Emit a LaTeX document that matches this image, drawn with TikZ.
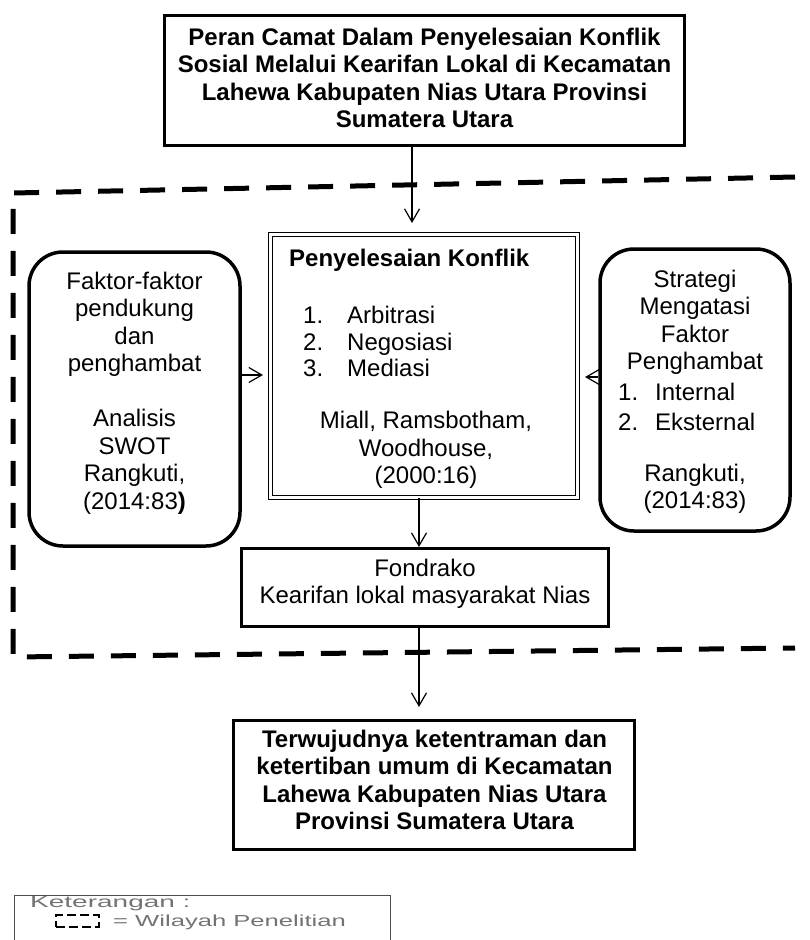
\documentclass[tikz,border=0pt]{standalone}
\usepackage{fontspec}
\usepackage{graphicx}
\setmainfont{Liberation Sans}
\usetikzlibrary{arrows.meta,calc}
\begin{document}
\begin{tikzpicture}[x=1pt,y=-1pt,
  every node/.style={font=\fontsize{24}{27.5}\selectfont},
  bfont/.style={font=\fontsize{24}{27.5}\selectfont\bfseries},
  box/.style={draw, line width=3pt, inner sep=0pt},
  rbox/.style={draw, line width=3.5pt, rounded corners=34pt, inner sep=0pt},
  dbox/.style={draw, double, double distance=2.5pt, line width=1.2pt, inner sep=0pt},
  txt/.style={inner sep=0pt, align=center},
  arr/.style={line width=1.2pt, -{Straight Barb[length=13pt,width=15pt]}},
  region/.style={line width=5pt, dash pattern=on 25pt off 17pt},
  legtext/.style={anchor=west, inner sep=0pt, text=black!55, font=\fontsize{16}{18}\selectfont},
]
\useasboundingbox (0,0) rectangle (809,940);

% research region (dashed)
\draw[region] (795,177) -- (13,193) -- (13,657) -- (795,648);

% top box
\node[box, minimum width=520pt, minimum height=130pt] (top) at (424.5,80.5) {};
\node[txt, bfont] (toptxt) at (424.5,78) {Peran Camat Dalam Penyelesaian Konflik\\Sosial Melalui Kearifan Lokal di Kecamatan\\Lahewa Kabupaten Nias Utara Provinsi\\Sumatera Utara};

% center double box
\node[dbox, minimum width=307pt, minimum height=263pt] (cbox) at (424,366) {};
\node[inner sep=0pt, anchor=base west, bfont] (ctitle) at (289,266.5) {Penyelesaian Konflik};
\node[inner sep=0pt, anchor=base west] (n1) at (303,323.5) {1.};
\node[inner sep=0pt, anchor=base west] (i1) at (347,323.5) {Arbitrasi};
\node[inner sep=0pt, anchor=base west] (n2) at (303,350.5) {2.};
\node[inner sep=0pt, anchor=base west] (i2) at (347,350.5) {Negosiasi};
\node[inner sep=0pt, anchor=base west] (n3) at (303,376.5) {3.};
\node[inner sep=0pt, anchor=base west] (i3) at (347,376.5) {Mediasi};
\node[txt] (cref) at (426,450) {Miall, Ramsbotham,\\Woodhouse,\\(2000:16)};

% left rounded box
\node[rbox, minimum width=211pt, minimum height=294pt] (lbox) at (134.5,399) {};
\node[txt] (ltxt) at (134.5,393) {Faktor-faktor\\pendukung\\dan\\penghambat\\[27.5pt]Analisis\\SWOT\\Rangkuti,\\(2014:83\textbf{)}};

% right rounded box
\node[rbox, minimum width=190pt, minimum height=282pt] (rbox) at (695,390) {};
\node[txt] (rtxt1) at (695,322.5) {Strategi\\Mengatasi\\Faktor\\Penghambat};
\node[inner sep=0pt, anchor=base west] (rn1) at (618,400.5) {1.};
\node[inner sep=0pt, anchor=base west] (ri1) at (655,400.5) {Internal};
\node[inner sep=0pt, anchor=base west] (rn2) at (618,430.5) {2.};
\node[inner sep=0pt, anchor=base west] (ri2) at (655,430.5) {Eksternal};
\node[txt] (rtxt2) at (695,489) {Rangkuti,\\(2014:83)};

% Fondrako box
\node[box, minimum width=367pt, minimum height=78pt] (fond) at (425,587.5) {};
\node[txt] (fondtxt) at (425,584) {Fondrako\\Kearifan lokal masyarakat Nias};

% bottom box
\node[box, minimum width=401pt, minimum height=129pt] (bot) at (434,785) {};
\node[txt, bfont] (bottxt) at (434.5,780) {Terwujudnya ketentraman dan\\ketertiban umum di Kecamatan\\Lahewa Kabupaten Nias Utara\\Provinsi Sumatera Utara};

% arrows
\coordinate (ta) at (412,223);
\draw[arr] (top.south -| ta) -- (ta);
\coordinate (cf) at (419,0);
\draw[arr] (cbox.south -| cf) -- (fond.north -| cf);
\coordinate (ba) at (419,707);
\draw[arr] (fond.south -| ba) -- (ba);
\coordinate (la) at (263,375);
\draw[arr] (lbox.east |- la) -- (la);
\coordinate (ra) at (585,377);
\draw[arr] (rbox.west |- ra) -- (ra);

% legend
\draw[black!70, line width=0.8pt] (14,950) -- (14,895) -- (390,895) -- (390,950);
\node[legtext] (leg1) at (30,904) {\scalebox{1.75}[1]{Keterangan :}};
\node[draw, line width=2.5pt, dash pattern=on 9pt off 4pt, minimum width=43pt, minimum height=12pt, inner sep=0pt] (legsym) at (77.5,921) {};
\node[legtext] (leg2) at (113,922) {\scalebox{1.6}[1]{= Wilayah Penelitian}};
\end{tikzpicture}
\end{document}
